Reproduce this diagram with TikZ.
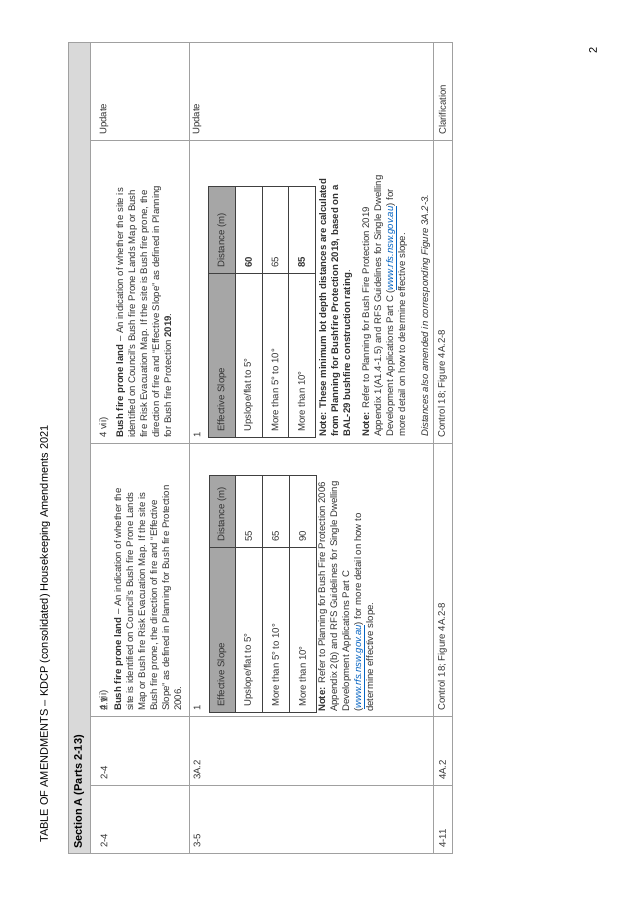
\documentclass[tikz,border=0pt]{standalone}
\usepackage{fontspec}
\setmainfont{Liberation Sans}
\definecolor{grid}{HTML}{A0A0A0}
\definecolor{hdr}{HTML}{D9D9D9}
\definecolor{ihdr}{HTML}{A6A6A6}
\definecolor{linkblue}{HTML}{0563C1}
\definecolor{txtc}{HTML}{333333}
\newcommand{\lnk}[1]{\textcolor{linkblue}{\underline{\textit{#1}}}}
\begin{document}
\begin{tikzpicture}[x=1pt,y=1pt,
  txt/.style={rotate=90, anchor=north west, inner sep=0pt, align=left, text=txtc, font=\fontsize{9.6}{12}\selectfont},
  cell/.style={rotate=90, anchor=west, inner sep=0pt, text=txtc, font=\fontsize{9.6}{12}\selectfont},
  gridline/.style={draw=grid, line width=0.8pt},
  inner/.style={draw=black!75, line width=0.8pt}]
\path[use as bounding box] (0,0) rectangle (638,-900);
% title and page number
\node[cell, text=black, font=\fontsize{11}{13}\selectfont] (title) at (45,-843) {TABLE OF AMENDMENTS -- KDCP (consolidated) Housekeeping Amendments 2021};
\node[cell, text=black, font=\fontsize{11}{13}\selectfont, anchor=center] (pg) at (593,-50) {2};
% outer table
\fill[hdr] (68,-42) rectangle (90,-853);
\draw[gridline] (68,-42) rectangle (452,-853);
\foreach \x in {90,189,433} \draw[gridline] (\x,-42) -- (\x,-853);
\foreach \y in {785,716,443,140} \draw[gridline] (90,-\y) -- (452,-\y);
\node[cell, text=black, font=\fontsize{11}{13}\selectfont\bfseries] (sec) at (79,-849) {Section A (Parts 2-13)};
% row 1
\node[cell] (r1a) at (104,-780) {2-4};
\node[cell] (r1b) at (104,-711) {2.1};
\node[cell] (r1c) at (104,-711) {4 vii)};
\node[txt] (r1cp) at (114,-711) {\textbf{Bush fire prone land} -- An indication of whether the\\site is identified on Council's Bush fire Prone Lands\\Map or Bush fire Risk Evacuation Map. If the site is\\Bush fire prone, the direction of fire and ``Effective\\Slope'' as defined in Planning for Bush fire Protection\\2006.};
\node[cell] (r1d) at (104,-438) {4 vii)};
\node[txt] (r1dp) at (116,-438) {\textbf{Bush fire prone land} -- An indication of whether the site is\\identified on Council's Bush fire Prone Lands Map or Bush\\fire Risk Evacuation Map. If the site is Bush fire prone, the\\direction of fire and ``Effective Slope'' as defined in Planning\\for Bush fire Protection \textbf{2019}.};
\node[cell] (r1e) at (104,-135) {Update};
\node[cell] (r1a0) at (104,-848) {2-4};
% fix first cell column positions
% row 2
\node[cell] (r2a) at (197,-848) {3-5};
\node[cell] (r2b) at (197,-780) {3A.2};
\node[cell] (r2c) at (197,-711) {1};
\node[cell] (r2d) at (197,-438) {1};
\node[cell] (r2e) at (197,-135) {Update};
% old inner table
\fill[ihdr] (209,-475) rectangle (235,-712);
\draw[inner] (209,-475) rectangle (316,-712);
\foreach \x in {235,262,289} \draw[inner] (\x,-475) -- (\x,-712);
\draw[inner] (209,-547) -- (316,-547);
\node[cell] (o1) at (222,-707) {Effective Slope};
\node[cell] (o2) at (222,-542) {Distance (m)};
\node[cell] (o3) at (248.5,-707) {Upslope/flat to 5°};
\node[cell] (o4) at (248.5,-542) {55};
\node[cell] (o5) at (275.5,-707) {More than 5° to 10°};
\node[cell] (o6) at (275.5,-542) {65};
\node[cell] (o7) at (302.5,-707) {More than 10°};
\node[cell] (o8) at (302.5,-542) {90};
\node[txt] (onote) at (318,-712) {\textbf{Note:} Refer to Planning for Bush Fire Protection 2006\\Appendix 2(b) and RFS Guidelines for Single Dwelling\\Development Applications Part C\\(\lnk{www.rfs.nsw.gov.au}) for more detail on how to\\determine effective slope.};
% new inner table
\fill[ihdr] (208,-186) rectangle (235,-437);
\draw[inner] (208,-186) rectangle (315,-437);
\foreach \x in {235,262,288} \draw[inner] (\x,-186) -- (\x,-437);
\draw[inner] (208,-273) -- (315,-273);
\node[cell] (n1) at (222,-432) {Effective Slope};
\node[cell] (n2) at (222,-268) {Distance (m)};
\node[cell] (n3) at (248.5,-432) {Upslope/flat to 5°};
\node[cell] (n4) at (248.5,-268) {\textbf{60}};
\node[cell] (n5) at (275,-432) {More than 5° to 10°};
\node[cell] (n6) at (275,-268) {65};
\node[cell] (n7) at (301.5,-432) {More than 10°};
\node[cell] (n8) at (301.5,-268) {\textbf{85}};
\node[txt] (nnote1) at (319,-437) {\textbf{Note: These minimum lot depth distances are calculated}\\\textbf{from Planning for Bushfire Protection 2019, based on a}\\\textbf{BAL-29 bushfire construction rating}.};
\node[txt] (nnote2) at (362,-437) {\textbf{Note:} Refer to Planning for Bush Fire Protection 2019\\Appendix 1(A1.4-1.5) and RFS Guidelines for Single Dwelling\\Development Applications Part C (\lnk{www.rfs.nsw.gov.au}) for\\more detail on how to determine effective slope.};
\node[txt] (nnote3) at (421,-437) {\textit{Distances also amended in corresponding Figure 3A.2-3.}};
% row 3
\node[cell] (r3a) at (442.5,-848) {4-11};
\node[cell] (r3b) at (442.5,-780) {4A.2};
\node[cell] (r3c) at (442.5,-711) {Control 18; Figure 4A.2-8};
\node[cell] (r3d) at (442.5,-438) {Control 18; Figure 4A.2-8};
\node[cell] (r3e) at (442.5,-135) {Clarification};
\end{tikzpicture}
\end{document}
